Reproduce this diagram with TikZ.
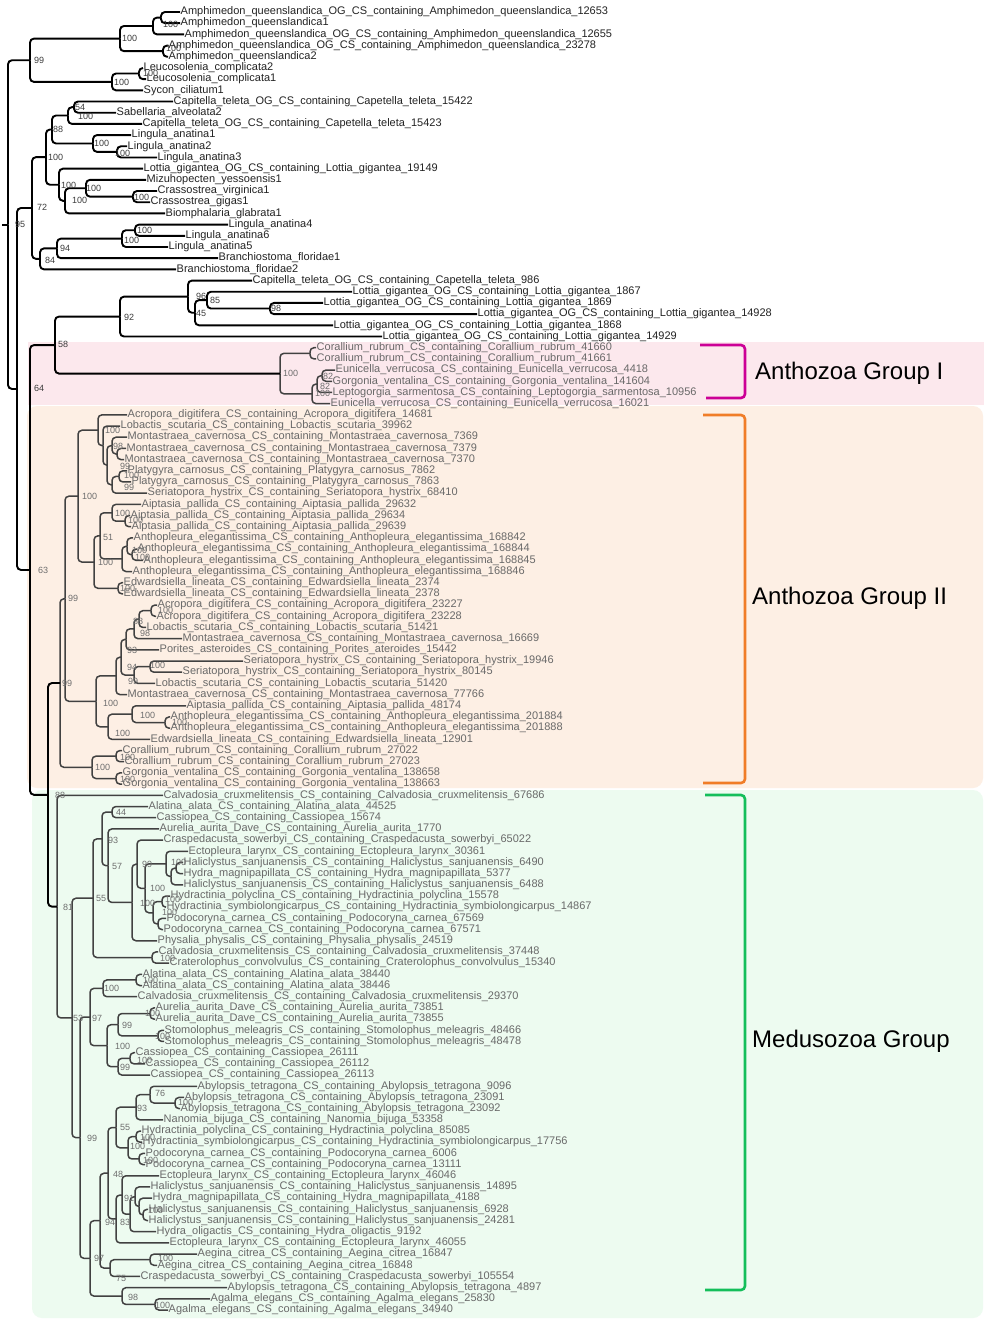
\documentclass[tikz,border=0pt]{standalone}
\usepackage{fontspec}
\setmainfont{Liberation Sans}
\usetikzlibrary{calc}
\definecolor{pinkbg}{RGB}{252,232,237}
\definecolor{peachbg}{RGB}{253,239,228}
\definecolor{greenbg}{RGB}{237,251,240}
\definecolor{magbr}{RGB}{204,0,150}
\definecolor{orbr}{RGB}{240,125,40}
\definecolor{grbr}{RGB}{20,190,90}
\definecolor{toptext}{RGB}{35,35,35}
\definecolor{lowtext}{RGB}{105,105,105}
\definecolor{lowline}{RGB}{65,65,65}
\definecolor{bstop}{RGB}{60,60,60}
\definecolor{bslow}{RGB}{110,110,110}
\catcode`\_=12
\newcommand\LEAF[3]{\node[leaf] (l#1) at (#2,{-(12+(#1-1)*11.19)}) {#3};}
\newcommand\TN[5][]{\path let \p1=(#4), \p2=(#5) in (#3pt,{(\y1+\y2)/2}) coordinate (#2);
  \draw[br,#1] (#2) |- (#4); \draw[br,#1] (#2) |- (#5);}
\newcommand\BS[4][]{\node[bs,#1] at (#2,-#3) {#4};}
\begin{document}
\begin{tikzpicture}[x=1pt,y=1pt,
  lcol/.style={text=toptext},
  leaf/.style={anchor=west, inner xsep=0.5pt, inner ysep=0pt, font=\fontsize{11}{13}\selectfont, text height=7.5pt, text depth=2pt, lcol},
  br/.style={line width=1.9pt, rounded corners=4pt, draw=black},
  lowbr/.style={line width=1.5pt, draw=lowline},
  bs/.style={anchor=west, inner sep=0pt, font=\fontsize{9}{10}\selectfont, text=bstop},
  bl/.style={text=bslow},
  bracket/.style={line width=2.6pt, rounded corners=4pt},
  grp/.style={anchor=west, inner sep=0pt, font=\fontsize{24}{28}\selectfont, text=black}]
\path[use as bounding box] (0,0) rectangle (984,-1320);
\fill[white] (0,0) rectangle (984,-1320);
\fill[pinkbg] (28,-342) rectangle (984,-405);
\fill[peachbg, rounded corners=10pt] (27,-406) rectangle (983,-788);
\fill[greenbg, rounded corners=10pt] (32,-790) rectangle (983,-1318);
% ---------- leaves ----------
\LEAF{1}{180}{Amphimedon_queenslandica_OG_CS_containing_Amphimedon_queenslandica_12653}
\LEAF{2}{180}{Amphimedon_queenslandica1}
\LEAF{3}{184}{Amphimedon_queenslandica_OG_CS_containing_Amphimedon_queenslandica_12655}
\LEAF{4}{168}{Amphimedon_queenslandica_OG_CS_containing_Amphimedon_queenslandica_23278}
\LEAF{5}{168}{Amphimedon_queenslandica2}
\LEAF{6}{143}{Leucosolenia_complicata2}
\LEAF{7}{146}{Leucosolenia_complicata1}
\LEAF{8}{143}{Sycon_ciliatum1}
\LEAF{9}{173}{Capitella_teleta_OG_CS_containing_Capetella_teleta_15422}
\LEAF{10}{116}{Sabellaria_alveolata2}
\LEAF{11}{142}{Capitella_teleta_OG_CS_containing_Capetella_teleta_15423}
\LEAF{12}{131}{Lingula_anatina1}
\LEAF{13}{127}{Lingula_anatina2}
\LEAF{14}{157}{Lingula_anatina3}
\LEAF{15}{143}{Lottia_gigantea_OG_CS_containing_Lottia_gigantea_19149}
\LEAF{16}{146}{Mizuhopecten_yessoensis1}
\LEAF{17}{157}{Crassostrea_virginica1}
\LEAF{18}{150}{Crassostrea_gigas1}
\LEAF{19}{165}{Biomphalaria_glabrata1}
\LEAF{20}{228}{Lingula_anatina4}
\LEAF{21}{185}{Lingula_anatina6}
\LEAF{22}{168}{Lingula_anatina5}
\LEAF{23}{218}{Branchiostoma_floridae1}
\LEAF{24}{176}{Branchiostoma_floridae2}
\LEAF{25}{252}{Capitella_teleta_OG_CS_containing_Capetella_teleta_986}
\LEAF{26}{352}{Lottia_gigantea_OG_CS_containing_Lottia_gigantea_1867}
\LEAF{27}{323}{Lottia_gigantea_OG_CS_containing_Lottia_gigantea_1869}
\LEAF{28}{477}{Lottia_gigantea_OG_CS_containing_Lottia_gigantea_14928}
\LEAF{29}{333}{Lottia_gigantea_OG_CS_containing_Lottia_gigantea_1868}
\LEAF{30}{382}{Lottia_gigantea_OG_CS_containing_Lottia_gigantea_14929}
\begin{scope}[lcol/.style={text=lowtext}]
\LEAF{31}{316}{Corallium_rubrum_CS_containing_Corallium_rubrum_41660}
\LEAF{32}{316}{Corallium_rubrum_CS_containing_Corallium_rubrum_41661}
\LEAF{33}{335}{Eunicella_verrucosa_CS_containing_Eunicella_verrucosa_4418}
\LEAF{34}{332}{Gorgonia_ventalina_CS_containing_Gorgonia_ventalina_141604}
\LEAF{35}{332}{Leptogorgia_sarmentosa_CS_containing_Leptogorgia_sarmentosa_10956}
\LEAF{36}{330}{Eunicella_verrucosa_CS_containing_Eunicella_verrucosa_16021}
\LEAF{37}{127}{Acropora_digitifera_CS_containing_Acropora_digitifera_14681}
\LEAF{38}{120}{Lobactis_scutaria_CS_containing_Lobactis_scutaria_39962}
\LEAF{39}{127}{Montastraea_cavernosa_CS_containing_Montastraea_cavernosa_7369}
\LEAF{40}{126}{Montastraea_cavernosa_CS_containing_Montastraea_cavernosa_7379}
\LEAF{41}{124}{Montastraea_cavernosa_CS_containing_Montastraea_cavernosa_7370}
\LEAF{42}{127}{Platygyra_carnosus_CS_containing_Platygyra_carnosus_7862}
\LEAF{43}{131}{Platygyra_carnosus_CS_containing_Platygyra_carnosus_7863}
\LEAF{44}{147}{Seriatopora_hystrix_CS_containing_Seriatopora_hystrix_68410}
\LEAF{45}{141}{Aiptasia_pallida_CS_containing_Aiptasia_pallida_29632}
\LEAF{46}{130}{Aiptasia_pallida_CS_containing_Aiptasia_pallida_29634}
\LEAF{47}{131}{Aiptasia_pallida_CS_containing_Aiptasia_pallida_29639}
\LEAF{48}{133}{Anthopleura_elegantissima_CS_containing_Anthopleura_elegantissima_168842}
\LEAF{49}{137}{Anthopleura_elegantissima_CS_containing_Anthopleura_elegantissima_168844}
\LEAF{50}{143}{Anthopleura_elegantissima_CS_containing_Anthopleura_elegantissima_168845}
\LEAF{51}{132}{Anthopleura_elegantissima_CS_containing_Anthopleura_elegantissima_168846}
\LEAF{52}{123}{Edwardsiella_lineata_CS_containing_Edwardsiella_lineata_2374}
\LEAF{53}{123}{Edwardsiella_lineata_CS_containing_Edwardsiella_lineata_2378}
\LEAF{54}{157}{Acropora_digitifera_CS_containing_Acropora_digitifera_23227}
\LEAF{55}{156}{Acropora_digitifera_CS_containing_Acropora_digitifera_23228}
\LEAF{56}{146}{Lobactis_scutaria_CS_containing_Lobactis_scutaria_51421}
\LEAF{57}{182}{Montastraea_cavernosa_CS_containing_Montastraea_cavernosa_16669}
\LEAF{58}{159}{Porites_asteroides_CS_containing_Porites_ateroides_15442}
\LEAF{59}{243}{Seriatopora_hystrix_CS_containing_Seriatopora_hystrix_19946}
\LEAF{60}{182}{Seriatopora_hystrix_CS_containing_Seriatopora_hystrix_80145}
\LEAF{61}{155}{Lobactis_scutaria_CS_containing_Lobactis_scutaria_51420}
\LEAF{62}{127}{Montastraea_cavernosa_CS_containing_Montastraea_cavernosa_77766}
\LEAF{63}{186}{Aiptasia_pallida_CS_containing_Aiptasia_pallida_48174}
\LEAF{64}{170}{Anthopleura_elegantissima_CS_containing_Anthopleura_elegantissima_201884}
\LEAF{65}{170}{Anthopleura_elegantissima_CS_containing_Anthopleura_elegantissima_201888}
\LEAF{66}{150}{Edwardsiella_lineata_CS_containing_Edwardsiella_lineata_12901}
\LEAF{67}{122}{Corallium_rubrum_CS_containing_Corallium_rubrum_27022}
\LEAF{68}{124}{Corallium_rubrum_CS_containing_Corallium_rubrum_27023}
\LEAF{69}{122}{Gorgonia_ventalina_CS_containing_Gorgonia_ventalina_138658}
\LEAF{70}{122}{Gorgonia_ventalina_CS_containing_Gorgonia_ventalina_138663}
\LEAF{71}{163}{Calvadosia_cruxmelitensis_CS_containing_Calvadosia_cruxmelitensis_67686}
\LEAF{72}{148}{Alatina_alata_CS_containing_Alatina_alata_44525}
\LEAF{73}{156}{Cassiopea_CS_containing_Cassiopea_15674}
\LEAF{74}{159}{Aurelia_aurita_Dave_CS_containing_Aurelia_aurita_1770}
\LEAF{75}{163}{Craspedacusta_sowerbyi_CS_containing_Craspedacusta_sowerbyi_65022}
\LEAF{76}{188}{Ectopleura_larynx_CS_containing_Ectopleura_larynx_30361}
\LEAF{77}{183}{Haliclystus_sanjuanensis_CS_containing_Haliclystus_sanjuanensis_6490}
\LEAF{78}{183}{Hydra_magnipapillata_CS_containing_Hydra_magnipapillata_5377}
\LEAF{79}{183}{Haliclystus_sanjuanensis_CS_containing_Haliclystus_sanjuanensis_6488}
\LEAF{80}{170}{Hydractinia_polyclina_CS_containing_Hydractinia_polyclina_15578}
\LEAF{81}{166}{Hydractinia_symbiolongicarpus_CS_containing_Hydractinia_symbiolongicarpus_14867}
\LEAF{82}{166}{Podocoryna_carnea_CS_containing_Podocoryna_carnea_67569}
\LEAF{83}{163}{Podocoryna_carnea_CS_containing_Podocoryna_carnea_67571}
\LEAF{84}{157}{Physalia_physalis_CS_containing_Physalia_physalis_24519}
\LEAF{85}{158}{Calvadosia_cruxmelitensis_CS_containing_Calvadosia_cruxmelitensis_37448}
\LEAF{86}{169}{Craterolophus_convolvulus_CS_containing_Craterolophus_convolvulus_15340}
\LEAF{87}{142}{Alatina_alata_CS_containing_Alatina_alata_38440}
\LEAF{88}{142}{Alatina_alata_CS_containing_Alatina_alata_38446}
\LEAF{89}{137}{Calvadosia_cruxmelitensis_CS_containing_Calvadosia_cruxmelitensis_29370}
\LEAF{90}{155}{Aurelia_aurita_Dave_CS_containing_Aurelia_aurita_73851}
\LEAF{91}{155}{Aurelia_aurita_Dave_CS_containing_Aurelia_aurita_73855}
\LEAF{92}{164}{Stomolophus_meleagris_CS_containing_Stomolophus_meleagris_48466}
\LEAF{93}{164}{Stomolophus_meleagris_CS_containing_Stomolophus_meleagris_48478}
\LEAF{94}{135}{Cassiopea_CS_containing_Cassiopea_26111}
\LEAF{95}{145}{Cassiopea_CS_containing_Cassiopea_26112}
\LEAF{96}{150}{Cassiopea_CS_containing_Cassiopea_26113}
\LEAF{97}{197}{Abylopsis_tetragona_CS_containing_Abylopsis_tetragona_9096}
\LEAF{98}{184}{Abylopsis_tetragona_CS_containing_Abylopsis_tetragona_23091}
\LEAF{99}{180}{Abylopsis_tetragona_CS_containing_Abylopsis_tetragona_23092}
\LEAF{100}{163}{Nanomia_bijuga_CS_containing_Nanomia_bijuga_53358}
\LEAF{101}{141}{Hydractinia_polyclina_CS_containing_Hydractinia_polyclina_85085}
\LEAF{102}{142}{Hydractinia_symbiolongicarpus_CS_containing_Hydractinia_symbiolongicarpus_17756}
\LEAF{103}{145}{Podocoryna_carnea_CS_containing_Podocoryna_carnea_6006}
\LEAF{104}{145}{Podocoryna_carnea_CS_containing_Podocoryna_carnea_13111}
\LEAF{105}{159}{Ectopleura_larynx_CS_containing_Ectopleura_larynx_46046}
\LEAF{106}{150}{Haliclystus_sanjuanensis_CS_containing_Haliclystus_sanjuanensis_14895}
\LEAF{107}{152}{Hydra_magnipapillata_CS_containing_Hydra_magnipapillata_4188}
\LEAF{108}{148}{Haliclystus_sanjuanensis_CS_containing_Haliclystus_sanjuanensis_6928}
\LEAF{109}{148}{Haliclystus_sanjuanensis_CS_containing_Haliclystus_sanjuanensis_24281}
\LEAF{110}{156}{Hydra_oligactis_CS_containing_Hydra_oligactis_9192}
\LEAF{111}{169}{Ectopleura_larynx_CS_containing_Ectopleura_larynx_46055}
\LEAF{112}{197}{Aegina_citrea_CS_containing_Aegina_citrea_16847}
\LEAF{113}{157}{Aegina_citrea_CS_containing_Aegina_citrea_16848}
\LEAF{114}{140}{Craspedacusta_sowerbyi_CS_containing_Craspedacusta_sowerbyi_105554}
\LEAF{115}{227}{Abylopsis_tetragona_CS_containing_Abylopsis_tetragona_4897}
\LEAF{116}{210}{Agalma_elegans_CS_containing_Agalma_elegans_25830}
\LEAF{117}{168}{Agalma_elegans_CS_containing_Agalma_elegans_34940}
\end{scope}
% ---------- tree: sponges ----------
\TN{A1}{161}{l1}{l2}
\TN{A2}{153}{A1}{l3}
\TN{A3}{163}{l4}{l5}
\TN{A4}{120}{A2}{A3}
\TN{A5}{139}{l6}{l7}
\TN{A6}{112}{A5}{l8}
\TN{A7}{30}{A4}{A6}
% bilateria
\TN{B1}{74}{l9}{l10}
\TN{B2}{68}{B1}{l11}
\TN{Li1}{117}{l13}{l14}
\TN{Li2}{93}{l12}{Li1}
\TN{N88b}{52}{B2}{Li2}
\TN{Cr}{133}{l17}{l18}
\TN{Mc}{86}{l16}{Cr}
\TN{Mc2}{65}{Mc}{l19}
\TN{Moll}{59}{l15}{Mc2}
\TN{Nb100}{46}{N88b}{Moll}
\TN{Lg1}{135}{l20}{l21}
\TN{Lg2}{122}{Lg1}{l22}
\TN{N94}{57}{Lg2}{l23}
\TN{N84}{40}{N94}{l24}
\TN{N72}{32}{Nb100}{N84}
% Lottia clade
\TN{Lt1}{270}{l27}{l28}
\TN{Lt2}{207}{l26}{Lt1}
\TN{Lt3}{195}{Lt2}{l29}
\TN{Lt4}{188}{l25}{Lt3}
\TN{N92}{120}{Lt4}{l30}
% Anthozoa I
\TN[lowbr]{Ao1}{310}{l31}{l32}
\TN[lowbr]{Ao2}{322}{l33}{l34}
\TN[lowbr]{Ao3}{317}{Ao2}{l35}
\TN[lowbr]{Ao4}{312}{Ao3}{l36}
\TN[lowbr]{AnthI}{280}{Ao1}{Ao4}
\TN{N58}{55}{N92}{AnthI}
% Anthozoa II
\TN[lowbr]{S1}{117}{l40}{l41}
\TN[lowbr]{S2}{112}{l39}{S1}
\TN[lowbr]{S3}{119}{l42}{l43}
\TN[lowbr]{S4}{112}{S3}{l44}
\TN[lowbr]{S5}{107}{S2}{S4}
\TN[lowbr]{S6}{103}{l38}{S5}
\TN[lowbr]{S7}{98}{l37}{S6}
\TN[lowbr]{Ai1}{125}{l46}{l47}
\TN[lowbr]{Ai2}{112}{l45}{Ai1}
\TN[lowbr]{An1}{132}{l49}{l50}
\TN[lowbr]{An2}{127}{l48}{An1}
\TN[lowbr]{An3}{122}{An2}{l51}
\TN[lowbr]{Ai3}{100}{Ai2}{An3}
\TN[lowbr]{Ed1}{118}{l52}{l53}
\TN[lowbr]{Ai4}{94}{Ai3}{Ed1}
\TN[lowbr]{HexT}{78}{S7}{Ai4}
\TN[lowbr]{C1}{151}{l54}{l55}
\TN[lowbr]{C2}{139}{C1}{l56}
\TN[lowbr]{C3}{134}{C2}{l57}
\TN[lowbr]{C4}{126}{C3}{l58}
\TN[lowbr]{D1}{150}{l59}{l60}
\TN[lowbr]{D2}{134}{D1}{l61}
\TN[lowbr]{D3}{121}{C4}{D2}
\TN[lowbr]{D4}{116}{D3}{l62}
\TN[lowbr]{E1}{165}{l64}{l65}
\TN[lowbr]{E2}{132}{l63}{E1}
\TN[lowbr]{E3}{108}{E2}{l66}
\TN[lowbr]{HexL}{96}{D4}{E3}
\TN[lowbr]{N99a}{65}{HexT}{HexL}
\TN[lowbr]{O1}{116}{l67}{l68}
\TN[lowbr]{O2}{116}{l69}{l70}
\TN[lowbr]{O3}{92}{O1}{O2}
\TN[lowbr]{N99c}{60}{N99a}{O3}
% Medusozoa
\TN[lowbr]{M2}{112}{l72}{l73}
\TN[lowbr]{H1}{176}{l77}{l78}
\TN[lowbr]{H2}{171}{H1}{l79}
\TN[lowbr]{H3}{166}{l76}{H2}
\TN[lowbr]{Hd1}{162}{l80}{l81}
\TN[lowbr]{Hd2}{158}{l82}{l83}
\TN[lowbr]{Hd3}{153}{Hd1}{Hd2}
\TN[lowbr]{H4}{145}{H3}{Hd3}
\TN[lowbr]{H5}{137}{l75}{H4}
\TN[lowbr]{H6}{132}{H5}{l84}
\TN[lowbr]{M57}{108}{l74}{H6}
\TN[lowbr]{M93}{102}{M2}{M57}
\TN[lowbr]{Stau}{152}{l85}{l86}
\TN[lowbr]{M55}{93}{M93}{Stau}
\TN[lowbr]{Al}{136}{l87}{l88}
\TN[lowbr]{Al2}{103}{Al}{l89}
\TN[lowbr]{Au}{150}{l90}{l91}
\TN[lowbr]{St}{158}{l92}{l93}
\TN[lowbr]{AuSt}{118}{Au}{St}
\TN[lowbr]{Ca1}{130}{l94}{l95}
\TN[lowbr]{Ca2}{118}{Ca1}{l96}
\TN[lowbr]{Scy}{107}{AuSt}{Ca2}
\TN[lowbr]{M97}{90}{Al2}{Scy}
\TN[lowbr]{Ab1}{175}{l98}{l99}
\TN[lowbr]{Ab2}{150}{l97}{Ab1}
\TN[lowbr]{Ab3}{136}{Ab2}{l100}
\TN[lowbr]{Hc1}{136}{l101}{l102}
\TN[lowbr]{Pc1}{139}{l103}{l104}
\TN[lowbr]{HP}{128}{Hc1}{Pc1}
\TN[lowbr]{Sn}{116}{Ab3}{HP}
\TN[lowbr]{Hh1}{143}{l108}{l109}
\TN[lowbr]{Hh2}{139}{l107}{Hh1}
\TN[lowbr]{Hh3}{135}{l106}{Hh2}
\TN[lowbr]{Hal}{130}{Hh3}{l110}
\TN[lowbr]{H91}{122}{l105}{Hal}
\TN[lowbr]{Hb}{116}{H91}{l111}
\TN[lowbr]{H48}{108}{Sn}{Hb}
\TN[lowbr]{Ae1}{150}{l112}{l113}
\TN[lowbr]{Ae2}{110}{Ae1}{l114}
\TN[lowbr]{Y94}{100}{H48}{Ae2}
\TN[lowbr]{Ag1}{155}{l116}{l117}
\TN[lowbr]{Ag2}{122}{l115}{Ag1}
\TN[lowbr]{Z}{90}{Y94}{Ag2}
\TN[lowbr]{M99}{80}{M97}{Z}
\TN[lowbr]{M53}{72}{M55}{M99}
\TN[lowbr]{Med}{57}{l71}{M53}
\TN{N88}{48}{N99c}{Med}
\TN{N63}{30}{N58}{N88}
\TN{N64}{17}{N72}{N63}
\TN{R}{8}{A7}{N64}
\coordinate (stub) at ($(R)+(-6,0)$);
\draw[br] (stub) -- (R);
% ---------- bootstrap labels ----------
\BS{163}{24}{100}\BS{122}{38}{100}\BS{166}{48}{100}\BS{34}{60}{99}
\BS{143}{73}{100}\BS{114}{82}{100}\BS{75}{107}{54}\BS{78}{116}{100}
\BS{53}{129}{88}\BS{94}{143}{100}\BS{115}{153}{100}\BS{48}{157}{100}
\BS{61}{185}{100}\BS{86}{188}{100}\BS{72}{200}{100}\BS{134}{197}{100}
\BS{37}{207}{72}\BS{15}{224}{95}\BS{137}{230}{100}\BS{124}{240}{100}
\BS{60}{248}{94}\BS{45}{260}{84}\BS{196}{296}{96}\BS{210}{300}{85}
\BS{271}{308}{98}\BS{196}{313}{45}\BS{124}{317}{92}\BS{58}{344}{58}
\BS{34}{388}{64}
\BS[bl]{283}{373}{100}\BS[bl]{323}{376}{82}\BS[bl]{320}{386}{82}\BS[bl]{315}{393}{100}
\BS[bl]{105}{430}{100}\BS[bl]{113}{446}{98}\BS[bl]{120}{466}{99}\BS[bl]{124}{475}{100}
\BS[bl]{124}{487}{99}\BS[bl]{82}{496}{100}\BS[bl]{115}{513}{100}\BS[bl]{128}{520}{100}
\BS[bl]{103}{537}{51}\BS[bl]{132}{550}{100}\BS[bl]{135}{557}{100}\BS[bl]{98}{562}{100}
\BS[bl]{38}{570}{63}\BS[bl]{120}{588}{100}\BS[bl]{68}{598}{99}\BS[bl]{158}{610}{100}
\BS[bl]{133}{621}{88}\BS[bl]{140}{633}{98}\BS[bl]{127}{650}{93}\BS[bl]{150}{665}{100}
\BS[bl]{127}{667}{94}\BS[bl]{128}{681}{99}\BS[bl]{62}{683}{99}\BS[bl]{103}{703}{100}
\BS[bl]{140}{715}{100}\BS[bl]{172}{722}{100}\BS[bl]{115}{733}{100}\BS[bl]{120}{757}{100}
\BS[bl]{95}{767}{100}\BS[bl]{120}{779}{100}
\BS[bl]{55}{795}{88}\BS[bl]{116}{812}{44}\BS[bl]{108}{840}{93}\BS[bl]{112}{866}{57}
\BS[bl]{142}{864}{99}\BS[bl]{171}{862}{100}\BS[bl]{150}{888}{100}\BS[bl]{96}{898}{55}
\BS[bl]{140}{903}{100}\BS[bl]{165}{899}{100}\BS[bl]{162}{912}{100}\BS[bl]{63}{907}{81}
\BS[bl]{160}{958}{100}\BS[bl]{143}{980}{100}\BS[bl]{104}{988}{100}\BS[bl]{145}{1013}{100}
\BS[bl]{73}{1018}{53}\BS[bl]{92}{1018}{97}\BS[bl]{122}{1025}{99}\BS[bl]{155}{1036}{100}
\BS[bl]{115}{1046}{100}\BS[bl]{137}{1060}{100}\BS[bl]{120}{1067}{99}\BS[bl]{155}{1093}{76}
\BS[bl]{178}{1102}{100}\BS[bl]{137}{1108}{93}\BS[bl]{120}{1127}{55}\BS[bl]{87}{1138}{99}
\BS[bl]{140}{1137}{100}\BS[bl]{130}{1146}{100}\BS[bl]{143}{1160}{100}\BS[bl]{113}{1174}{48}
\BS[bl]{124}{1198}{91}\BS[bl]{148}{1210}{100}\BS[bl]{105}{1222}{94}\BS[bl]{120}{1222}{83}
\BS[bl]{94}{1258}{97}\BS[bl]{158}{1258}{100}\BS[bl]{116}{1278}{75}\BS[bl]{128}{1297}{98}
\BS[bl]{155}{1305}{100}
% ---------- brackets and group labels ----------
\draw[bracket, magbr] (700,-345) -- (745,-345) -- (745,-398) -- (706,-398);
\draw[bracket, orbr] (703,-415) -- (745,-415) -- (745,-783) -- (703,-783);
\draw[bracket, grbr] (705,-795) -- (745,-795) -- (745,-1290) -- (705,-1290);
\node[grp] (g1) at (755,-373) {Anthozoa Group I};
\node[grp] (g2) at (752,-598) {Anthozoa Group II};
\node[grp] (g3) at (752,-1041) {Medusozoa Group};
\end{tikzpicture}
\end{document}
